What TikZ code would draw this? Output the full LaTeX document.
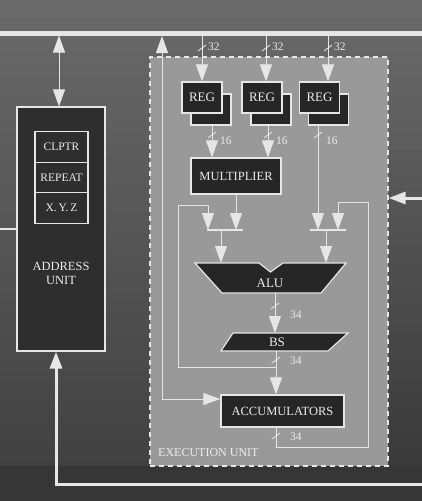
\documentclass[tikz,border=0pt]{standalone}
\usepackage{fontspec}
\setmainfont{Liberation Serif}
\usetikzlibrary{arrows.meta}
\definecolor{bgtop}{HTML}{6A6A6A}
\definecolor{bgbot}{HTML}{3E3E3E}
\definecolor{strip}{HTML}{363636}
\definecolor{eufill}{HTML}{999999}
\definecolor{boxfill}{HTML}{262626}
\definecolor{aufill}{HTML}{2E2E2E}
\definecolor{linecol}{HTML}{E6E6E6}
\definecolor{txt}{HTML}{ECECEC}
\begin{document}
\begin{tikzpicture}[x=1pt,y=-1pt,
  wire/.style={draw=linecol, line width=0.9pt},
  bus/.style={draw=linecol, line width=3pt},
  arr/.style={-{Triangle[length=17pt,width=12pt]}},
  darr/.style={{Triangle[length=17pt,width=12pt]}-{Triangle[length=17pt,width=12pt]}},
  box/.style={draw=linecol, line width=1.2pt, fill=boxfill, text=txt, inner sep=0pt,
    font=\fontsize{12.5}{13}\selectfont},
  regbox/.style={box, minimum width=40pt, minimum height=31pt, font=\fontsize{13}{14}\selectfont},
  aureg/.style={draw=linecol, line width=1.2pt, fill=aufill, text=txt, inner sep=0pt,
    minimum width=53pt, minimum height=30.5pt, font=\fontsize{11.5}{12}\selectfont},
  lbl/.style={text=txt, inner sep=0pt, font=\fontsize{11.5}{12}\selectfont},
  unitshape/.style={draw=linecol, line width=1.2pt, fill=boxfill},
  muxbar/.style={draw=linecol, line width=1.2pt}
]
\useasboundingbox (0,0) rectangle (422,501);
% background
\shade[top color=bgtop, bottom color=bgbot] (0,0) rectangle (422,501);
\shade[top color=bgtop!70!strip, bottom color=strip] (388,150) rectangle (422,501);
\fill[strip] (0,466) rectangle (422,501);

% execution unit
\node[draw=linecol, line width=1.2pt, dash pattern=on 5pt off 4pt, fill=eufill,
      minimum width=238pt, minimum height=409pt, inner sep=0pt] (eu) at (269,261.5) {};
\node[lbl, anchor=base west, font=\fontsize{12}{12}\selectfont] (eulabel) at (158,456) {EXECUTION UNIT};

% address unit
\node[draw=linecol, line width=1.2pt, fill=aufill, minimum width=88pt, minimum height=244pt, inner sep=0pt] (au) at (61,229) {};
\node[aureg] (clptr) at (61.5,147) {CLPTR};
\node[aureg] (repeat) at (61.5,177.5) {REPEAT};
\node[aureg] (xyz) at (61.5,208) {X.\,Y.\,Z};
\node[lbl, align=center, font=\fontsize{12.5}{14}\selectfont] (aulabel) at (61,273) {ADDRESS\\UNIT};

% buses
\coordinate (busL) at (0,33);
\coordinate (busR) at (422,33);
\draw[draw=linecol, line width=5pt] (busL) -- (busR);
\coordinate (stubL) at (0,229);
\draw[draw=linecol, line width=1.5pt] (stubL) -- (stubL -| au.west);
\coordinate (botR) at (422,484);
\coordinate (botL) at (56,484);
\draw[bus, arr] (botR) -- (botL) -- (botL |- au.south);
\coordinate (inR) at (422,198);
\draw[bus, arr] (inR) -- (inR -| eu.east);
\coordinate (auTap) at (59,35.5);
\draw[wire, darr] (auTap) -- (auTap |- au.north);

% registers
\node[regbox] (reg1b) at (211,109.5) {};
\node[regbox] (reg1) at (202,97.5) {REG};
\node[regbox] (reg2b) at (271,109.5) {};
\node[regbox] (reg2) at (262,97.5) {REG};
\node[regbox] (reg3b) at (328.5,109.5) {};
\node[regbox] (reg3) at (319.5,97.5) {REG};

\coordinate (t1) at (202,35.5);
\coordinate (t2) at (266,35.5);
\coordinate (t3) at (328,35.5);
\draw[wire, arr] (t1) -- (t1 |- reg1.north);
\draw[wire, arr] (t2) -- (t2 |- reg2.north);
\draw[wire, arr] (t3) -- (t3 |- reg3.north);
\foreach \x in {202,266,328}{
  \draw[wire] (\x,48) ++(-4,3) -- ++(8,-6);
  \node[lbl, anchor=west] at (\x+6,47) {32};
}

% multiplier
\node[box, minimum width=90pt, minimum height=36pt] (mult) at (236,176) {MULTIPLIER};
\coordinate (r1o) at (212,125);
\coordinate (r2o) at (268,125);
\coordinate (r3o) at (318,125);
\draw[wire, arr] (r1o) -- (r1o |- mult.north);
\draw[wire, arr] (r2o) -- (r2o |- mult.north);
\foreach \x in {212,268,318}{
  \draw[wire] (\x,135) ++(-4,3) -- ++(8,-6);
  \node[lbl, anchor=west] at (\x+8,141) {16};
}

% muxes
\coordinate (mlA) at (207,230);
\coordinate (mlB) at (243,230);
\coordinate (mrA) at (310,230);
\coordinate (mrB) at (346,230);
\draw[muxbar] (mlA) -- (mlB);
\draw[muxbar] (mrA) -- (mrB);
\draw[wire, arr] (mult.south) -- (236,230);
\draw[wire, arr] (r3o) -- (318,230);

% ALU
\draw[unitshape] (195,263) -- (259,263) -- (270.5,272) -- (283,263) -- (346,263) -- (321,293) -- (222,293) -- cycle;
\node[lbl, font=\fontsize{13}{13}\selectfont] (alu) at (270,283) {ALU};
\coordinate (aluL) at (221,263);
\coordinate (aluR) at (326,263);
\draw[wire, arr] (221,230) -- (aluL);
\draw[wire, arr] (326,230) -- (aluR);

% BS
\draw[unitshape] (233,333) -- (348,333) -- (328,351) -- (221,351) -- cycle;
\node[lbl, font=\fontsize{13}{13}\selectfont] (bs) at (277,342) {BS};
\coordinate (aluO) at (275,293);
\coordinate (bsI) at (275,333);
\draw[wire, arr] (aluO) -- (bsI);
\draw[wire] (275,306) ++(-4,3) -- ++(8,-6);
\node[lbl, anchor=west] at (290,315) {34};

% accumulators
\node[box, minimum width=123pt, minimum height=32pt] (acc) at (282.5,411) {ACCUMULATORS};
\coordinate (bsO) at (276,351);
\draw[wire, arr] (bsO) -- (bsO |- acc.north);
\draw[wire] (276,360) ++(-4,3) -- ++(8,-6);
\node[lbl, anchor=west] at (290,361) {34};

% feedback from BS to left mux
\coordinate (fbL) at (178,367);
\draw[wire, arr] (276,367) -- (fbL) -- (178,205) -- (208,205) -- (208,230);

% accumulators output loop to right mux
\coordinate (accO) at (276,427);
\draw[wire, arr] (accO) -- (276,447) -- (368,447) -- (368,202) -- (338,202) -- (338,230);
\draw[wire] (276,436) ++(-4,3) -- ++(8,-6);
\node[lbl, anchor=west] at (290,437) {34};

% execution unit to bus and accumulators
\coordinate (eTap) at (162,36);
\coordinate (eJ) at (162,399);
\draw[wire, arr] (eJ) -- (eTap);
\draw[wire, arr] (eJ) -- (eJ -| acc.west);
\end{tikzpicture}
\end{document}
